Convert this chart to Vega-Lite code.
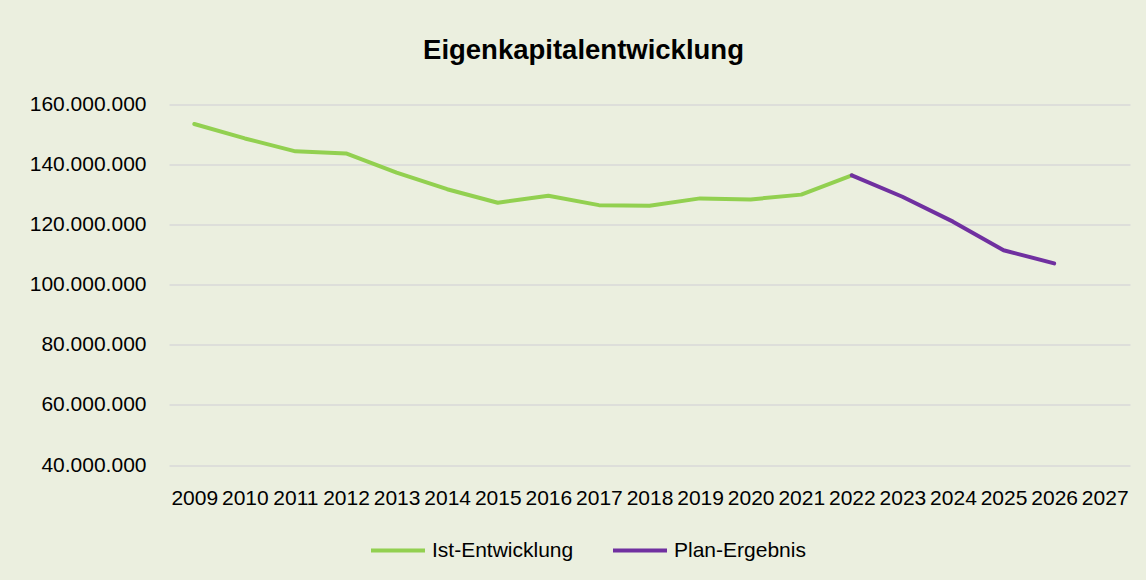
{
  "$schema": "https://vega.github.io/schema/vega-lite/v6.json",
  "autosize": {"type": "none"},
  "width": 961,
  "height": 360.5,
  "padding": {"left": 169, "top": 104.5, "right": 16, "bottom": 115},
  "background": "#EBEFDF",
  "title": {
    "text": "Eigenkapitalentwicklung",
    "font": "Liberation Sans",
    "fontSize": 27.5,
    "fontWeight": "bold",
    "color": "#000000",
    "anchor": "middle",
    "dx": -66,
    "baseline": "alphabetic",
    "offset": 7
  },
  "data": {
    "values": [
      {"year": "2009", "series": "Ist-Entwicklung", "value": 153500000},
      {"year": "2010", "series": "Ist-Entwicklung", "value": 148700000},
      {"year": "2011", "series": "Ist-Entwicklung", "value": 144400000},
      {"year": "2012", "series": "Ist-Entwicklung", "value": 143700000},
      {"year": "2013", "series": "Ist-Entwicklung", "value": 137300000},
      {"year": "2014", "series": "Ist-Entwicklung", "value": 131800000},
      {"year": "2015", "series": "Ist-Entwicklung", "value": 127300000},
      {"year": "2016", "series": "Ist-Entwicklung", "value": 129600000},
      {"year": "2017", "series": "Ist-Entwicklung", "value": 126500000},
      {"year": "2018", "series": "Ist-Entwicklung", "value": 126300000},
      {"year": "2019", "series": "Ist-Entwicklung", "value": 128750000},
      {"year": "2020", "series": "Ist-Entwicklung", "value": 128400000},
      {"year": "2021", "series": "Ist-Entwicklung", "value": 130000000},
      {"year": "2022", "series": "Ist-Entwicklung", "value": 136400000},
      {"year": "2022", "series": "Plan-Ergebnis", "value": 136400000},
      {"year": "2023", "series": "Plan-Ergebnis", "value": 129300000},
      {"year": "2024", "series": "Plan-Ergebnis", "value": 121000000},
      {"year": "2025", "series": "Plan-Ergebnis", "value": 111500000},
      {"year": "2026", "series": "Plan-Ergebnis", "value": 107100000}
    ]
  },
  "mark": {"type": "line", "strokeWidth": 4, "strokeCap": "round", "strokeJoin": "round"},
  "encoding": {
    "x": {
      "field": "year",
      "type": "ordinal",
      "scale": {
        "type": "point",
        "padding": 0.5,
        "domain": ["2009","2010","2011","2012","2013","2014","2015","2016","2017","2018","2019","2020","2021","2022","2023","2024","2025","2026","2027"]
      },
      "axis": {
        "title": null,
        "labelAngle": 0,
        "labelOverlap": false,
        "labelFont": "Liberation Sans",
        "labelFontSize": 21,
        "labelColor": "#000000",
        "labelPadding": 22,
        "domain": false,
        "ticks": false,
        "grid": false
      }
    },
    "y": {
      "field": "value",
      "type": "quantitative",
      "scale": {"domain": [40000000, 160000000], "nice": false, "zero": false},
      "axis": {
        "title": null,
        "values": [40000000, 60000000, 80000000, 100000000, 120000000, 140000000, 160000000],
        "labelExpr": "replace(format(datum.value, ',d'), /,/g, '.')",
        "labelFont": "Liberation Sans",
        "labelFontSize": 21,
        "labelColor": "#000000",
        "labelPadding": 23,
        "domain": false,
        "ticks": false,
        "grid": true,
        "gridColor": "#D9D9D9",
        "gridWidth": 1.5
      }
    },
    "color": {
      "field": "series",
      "type": "nominal",
      "scale": {"domain": ["Ist-Entwicklung", "Plan-Ergebnis"], "range": ["#92D050", "#7030A0"]},
      "legend": {
        "title": null,
        "orient": "none",
        "direction": "horizontal",
        "legendX": 200,
        "legendY": 417,
        "symbolType": "stroke",
        "symbolSize": 2916,
        "symbolStrokeWidth": 4,
        "labelFont": "Liberation Sans",
        "labelFontSize": 21,
        "labelColor": "#000000",
        "labelOffset": 5,
        "columnPadding": 31
      }
    }
  },
  "config": {"view": {"stroke": null}}
}
